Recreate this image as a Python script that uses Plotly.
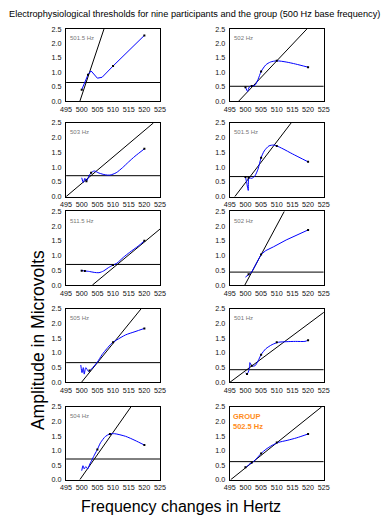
import plotly.graph_objects as go

W, H = 384, 523

# ---------------- data ----------------
panel_labels = ["501.5 Hz", "502 Hz", "503 Hz", "501.5 Hz", "511.5 Hz",
                "502 Hz", "505 Hz", "501 Hz", "504 Hz", "GROUP<br>502.5 Hz"]

thresholds = [0.65, 0.52, 0.71, 0.68, 0.70, 0.44, 0.67, 0.43, 0.71, 0.62]

reg_x = [[499.4, 507.1], [497.8, 519.6], [495.0, 522.9], [496.6, 514.6], [503.4, 531.8],
         [499.8, 512.4], [499.9, 519.0], [495.0, 526.6], [499.4, 515.7], [495.3, 524.3]]
reg_y = [[0.0, 2.5]] * 10

p1_x = [500, 501, 502, 503, 505, 506.5, 510, 520]
p1_y = [0.40, 0.65, 0.92, 1.05, 0.80, 0.83, 1.22, 2.28]
p2_x = [500, 500.7, 501.2, 502, 503, 504, 505, 506.5, 508, 510, 513, 516, 520]
p2_y = [0.49, 0.34, 0.49, 0.53, 0.55, 0.75, 1.03, 1.26, 1.36, 1.40, 1.36, 1.29, 1.18]
p3_x = [500, 500.5, 501, 501.5, 502.3, 503, 504, 505.5, 507.5, 509, 511, 513, 515, 517, 520]
p3_y = [0.64, 0.48, 0.62, 0.52, 0.70, 0.81, 0.87, 0.80, 0.74, 0.73, 0.81, 0.98, 1.18, 1.37, 1.62]
p4_x = [500, 500.4, 500.9, 501.1, 502, 503, 504, 505, 506, 507.5, 509, 510, 512, 515, 520]
p4_y = [0.67, 0.47, 0.21, 0.64, 0.62, 0.70, 0.93, 1.32, 1.55, 1.72, 1.75, 1.72, 1.62, 1.45, 1.18]
p5_x = [499.7, 501, 502.5, 504, 505.5, 507, 508.5, 510, 511.2, 513.3, 515.3, 518, 520]
p5_y = [0.50, 0.48, 0.46, 0.43, 0.42, 0.48, 0.59, 0.68, 0.74, 0.94, 1.11, 1.32, 1.50]
p6_x = [500, 501, 502, 505, 506.5, 509, 513, 520]
p6_y = [0.27, 0.37, 0.44, 1.04, 1.17, 1.30, 1.53, 1.87]
p7_x = [499.7, 500.1, 500.5, 500.8, 501.3, 502.2, 503, 504, 505, 506.5, 508, 509.6, 511.2, 514, 517, 520]
p7_y = [0.59, 0.33, 0.50, 0.28, 0.50, 0.37, 0.44, 0.56, 0.69, 0.94, 1.14, 1.33, 1.44, 1.61, 1.72, 1.83]
p8_x = [500, 500.5, 501.2, 501.4, 502, 503, 504, 505, 506.5, 508.5, 510.5, 513, 516, 519, 520]
p8_y = [0.33, 0.28, 0.44, 0.67, 0.56, 0.56, 0.72, 0.94, 1.14, 1.28, 1.36, 1.38, 1.39, 1.39, 1.43]
p9_x = [500, 500.4, 500.8, 501.3, 501.9, 502.6, 503.4, 504.2, 505, 506, 507.6, 509, 510.5, 514, 517, 520]
p9_y = [0.31, 0.48, 0.37, 0.45, 0.37, 0.54, 0.71, 0.88, 1.04, 1.27, 1.49, 1.57, 1.58, 1.49, 1.35, 1.19]
p10_x = [500, 500.5, 501.3, 502.3, 503.4, 505, 506.5, 508.5, 510.5, 513.3, 516.4, 520]
p10_y = [0.43, 0.45, 0.54, 0.59, 0.71, 0.90, 1.04, 1.18, 1.28, 1.35, 1.44, 1.57]

blue_x = [p1_x, p2_x, p3_x, p4_x, p5_x, p6_x, p7_x, p8_x, p9_x, p10_x]
blue_y = [p1_y, p2_y, p3_y, p4_y, p5_y, p6_y, p7_y, p8_y, p9_y, p10_y]

mark_x = [[500, 502, 510, 520], [500, 502, 505, 510, 520], [501.5, 503, 520],
          [500, 501, 505, 510, 520], [500, 501, 510, 520], [501, 505, 520],
          [502.5, 510, 520], [500.5, 502, 505, 510, 520], [505, 509, 520],
          [500, 502, 505, 510, 520]]
mark_y = [[0.40, 0.92, 1.22, 2.28], [0.49, 0.53, 1.03, 1.40, 1.18], [0.52, 0.81, 1.62],
          [0.67, 0.64, 1.32, 1.72, 1.18], [0.49, 0.48, 0.68, 1.50], [0.37, 1.04, 1.87],
          [0.40, 1.36, 1.83], [0.28, 0.56, 0.94, 1.36, 1.43], [1.04, 1.57, 1.19],
          [0.43, 0.59, 0.90, 1.28, 1.57]]

x_ticks = [495, 500, 505, 510, 515, 520, 525]
y_ticks = [0.0, 0.5, 1.0, 1.5, 2.0, 2.5]

# ---------------- layout helpers ----------------
col_px = [(62, 159), (231, 328)]
row_px = [(25.5, 99), (121, 196), (211, 286), (310, 385), (410, 484)]
smooth = [False, True, True, True, True, False, True, True, True, True]

fig = go.Figure()
layout = dict(width=W, height=H, margin=dict(l=0, r=0, t=0, b=0),
              paper_bgcolor="white", plot_bgcolor="white", showlegend=False,
              font=dict(family="Liberation Sans, Arial", color="black"))
annotations = []

for i in range(10):
    r, c = divmod(i, 2)
    n = "" if i == 0 else str(i + 1)
    xa, ya = "x" + n, "y" + n
    x0, x1 = col_px[c]
    yt, yb = row_px[r]
    axis_common = dict(showline=True, mirror=True, linecolor="black", linewidth=1,
                       showgrid=False, zeroline=False, ticks="",
                       tickfont=dict(size=7.2, color="#111"))
    layout["xaxis" + n] = dict(axis_common, domain=[x0 / W, x1 / W], range=[495, 525],
                               tickvals=x_ticks, anchor=ya, ticklabelstandoff=1)
    layout["yaxis" + n] = dict(axis_common, domain=[1 - yb / H, 1 - yt / H], range=[0, 2.5],
                               tickvals=y_ticks, tickformat=".1f", anchor=xa,
                               ticklabelstandoff=2)
    fig.add_trace(go.Scatter(x=[495, 525], y=[thresholds[i]] * 2, mode="lines",
                             line=dict(color="black", width=1), xaxis=xa, yaxis=ya))
    fig.add_trace(go.Scatter(x=reg_x[i], y=reg_y[i], mode="lines",
                             line=dict(color="black", width=1), xaxis=xa, yaxis=ya))
    fig.add_trace(go.Scatter(x=blue_x[i], y=blue_y[i], mode="lines",
                             line=dict(color="#0000ff", width=1,
                                       shape="spline" if smooth[i] else "linear",
                                       smoothing=0.7),
                             xaxis=xa, yaxis=ya))
    fig.add_trace(go.Scatter(x=mark_x[i], y=mark_y[i], mode="markers",
                             marker=dict(color="black", size=2, symbol="square"),
                             xaxis=xa, yaxis=ya))
    if i < 9:
        annotations.append(dict(text=panel_labels[i], xref="paper", yref="paper",
                                x=(x0 + 2) / W, y=1 - (yt + 9.5) / H,
                                xanchor="left", yanchor="middle", showarrow=False,
                                font=dict(size=6, color="#777")))
    else:
        annotations.append(dict(text="<b>" + panel_labels[i] + "</b>", xref="paper", yref="paper",
                                x=(x0 + 1) / W, y=1 - (yt + 14.5) / H, align="left",
                                xanchor="left", yanchor="middle", showarrow=False,
                                font=dict(size=7.5, color="#ff8c1a")))

annotations.append(dict(text="Electrophysiological thresholds for nine participants and the group (500 Hz base frequency)",
                        xref="paper", yref="paper", x=1 / W, y=1 - 10 / H,
                        xanchor="left", yanchor="middle", showarrow=False,
                        font=dict(size=9.2, color="black")))
annotations.append(dict(text="Frequency changes in Hertz", xref="paper", yref="paper",
                        x=181 / W, y=1 - 511 / H, xanchor="center", yanchor="middle",
                        showarrow=False, font=dict(size=16, color="black")))
annotations.append(dict(text="Amplitude in Microvolts", xref="paper", yref="paper",
                        x=33 / W, y=1 - 342 / H, xanchor="center", yanchor="middle",
                        textangle=-90, showarrow=False, font=dict(size=17.5, color="black")))
layout["annotations"] = annotations
fig.update_layout(**layout)
fig.write_html("out.html", config={"displayModeBar": False},
               post_script="document.body.style.margin='0px';")
